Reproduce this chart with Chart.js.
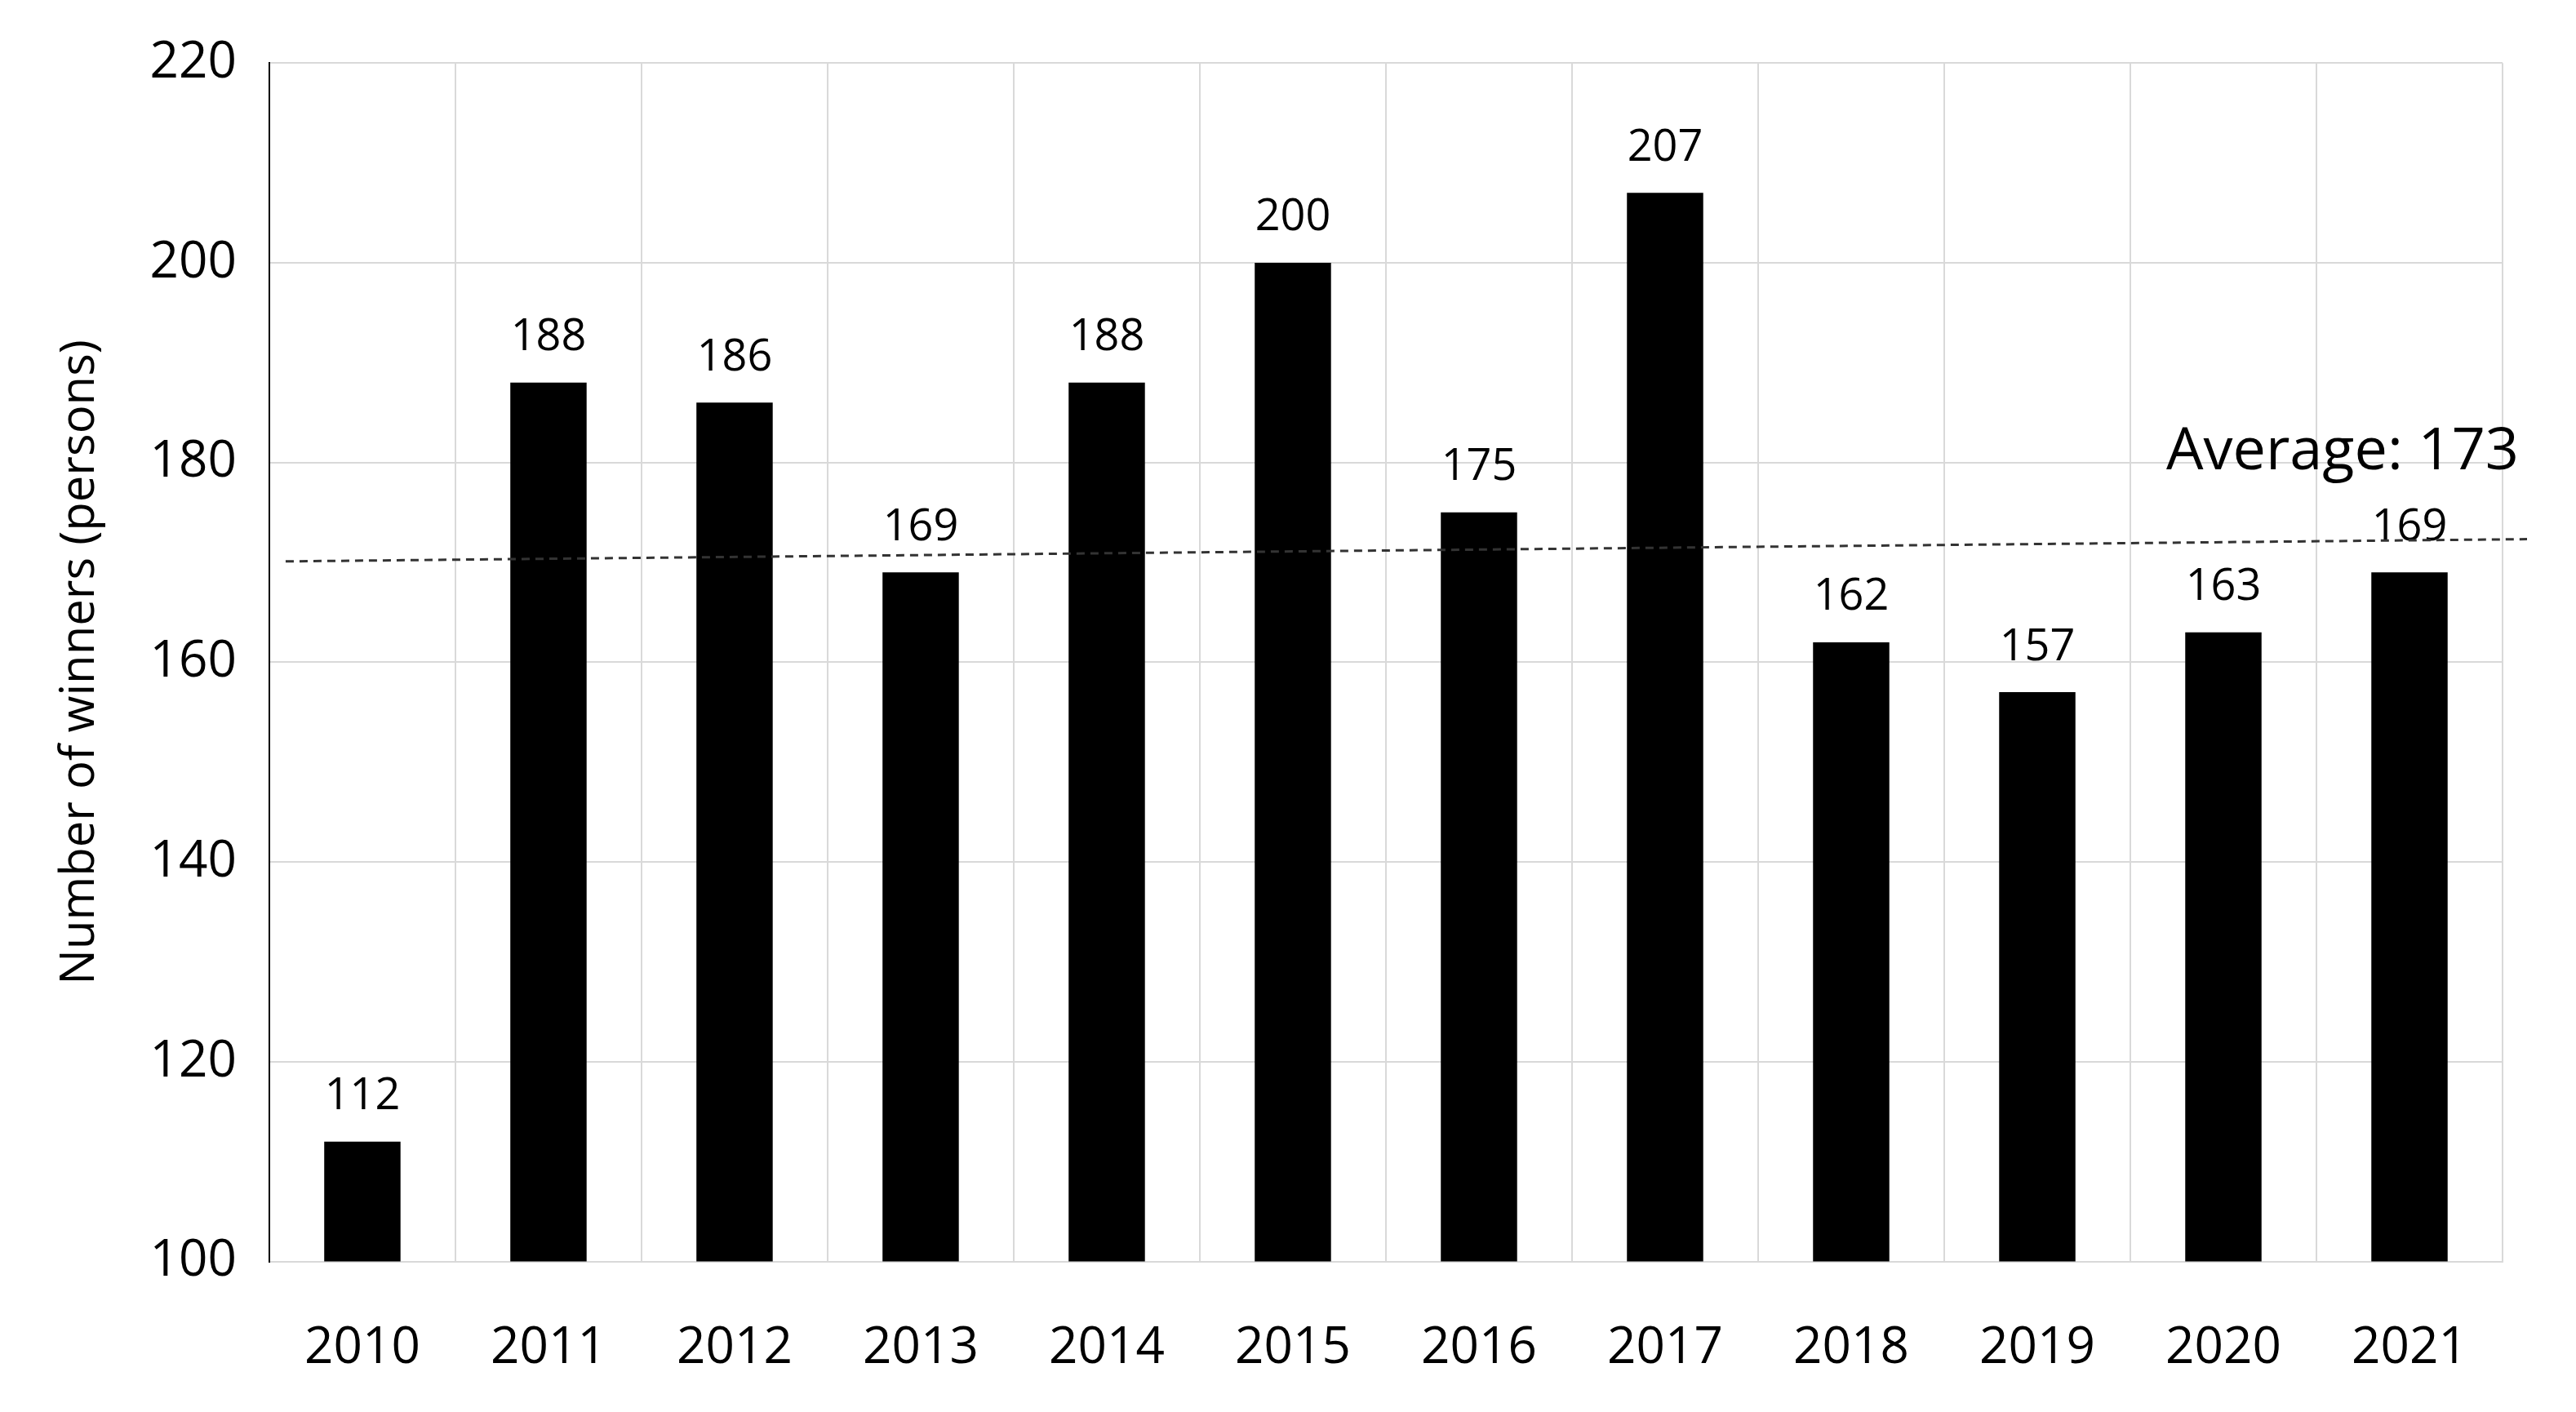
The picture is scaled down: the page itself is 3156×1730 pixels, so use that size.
<!DOCTYPE html>
<html>
<head>
<meta charset="utf-8">
<script src="https://cdn.jsdelivr.net/npm/chart.js@4"></script>
<style>
  html, body { margin: 0; padding: 0; background: #fff; }
  #wrap { width: 3156px; height: 1730px; }
</style>
</head>
<body>
<div id="wrap"><canvas id="chart"></canvas></div>
<script>
const years = ['2010', '2011', '2012', '2013', '2014', '2015', '2016', '2017', '2018', '2019', '2020', '2021'];
const winners = [112, 188, 186, 169, 188, 200, 175, 207, 162, 157, 163, 169];
// dashed trend line, value at left edge and right edge of plot
const trendEnds = [170.1, 172.3];
const averageLabel = ['Average: 173'];

const FONT = 'Open Sans, Liberation Sans, sans-serif';

// Value labels above bars
const barLabels = {
  id: 'barLabels',
  afterDatasetsDraw(chart) {
    const ctx = chart.ctx;
    const meta = chart.getDatasetMeta(0);
    ctx.save();
    ctx.font = '54px ' + FONT;
    ctx.fillStyle = '#000';
    ctx.textAlign = 'center';
    ctx.textBaseline = 'bottom';
    meta.data.forEach((bar, i) => {
      ctx.fillText(winners[i], bar.x, bar.y - 28);
    });
    ctx.restore();
  }
};

// Trend line and average text
const trendLine = {
  id: 'trendLine',
  afterDatasetsDraw(chart) {
    const ctx = chart.ctx;
    const y = chart.scales.y;
    const area = chart.chartArea;
    const y0 = y.getPixelForValue(trendEnds[0]);
    const y1 = y.getPixelForValue(trendEnds[1]);
    const xEnd = area.right + 30;
    const yEnd = y0 + (y1 - y0) * (xEnd - area.left) / (area.right - area.left);
    ctx.save();
    ctx.strokeStyle = '#333';
    ctx.lineWidth = 3;
    ctx.setLineDash([10, 7]);
    ctx.beginPath();
    ctx.moveTo(area.left + 20, y0);
    ctx.lineTo(xEnd, yEnd);
    ctx.stroke();
    ctx.setLineDash([]);
    ctx.font = '72px ' + FONT;
    ctx.fillStyle = '#000';
    ctx.textAlign = 'right';
    ctx.textBaseline = 'bottom';
    ctx.fillText(averageLabel[0], xEnd - 10, yEnd - 70);
    ctx.restore();
  }
};

new Chart(document.getElementById('chart'), {
  type: 'bar',
  data: {
    labels: years,
    datasets: [{
      data: winners,
      backgroundColor: '#000',
      barPercentage: 0.41,
      categoryPercentage: 1
    }]
  },
  options: {
    responsive: true,
    maintainAspectRatio: false,
    animation: false,
    layout: { padding: { top: 29, right: 90, left: 54, bottom: -30 } },
    plugins: {
      legend: { display: false },
      tooltip: { enabled: false }
    },
    scales: {
      x: {
        grid: { color: '#d9d9d9', lineWidth: 2, offset: true, drawTicks: false },
        border: { color: '#d9d9d9', width: 2 },
        ticks: { color: '#000', font: { size: 62, family: FONT }, padding: 70 }
      },
      y: {
        min: 100,
        max: 220,
        grid: { color: '#d9d9d9', lineWidth: 2, drawTicks: false },
        border: { color: '#000', width: 2 },
        ticks: { stepSize: 20, color: '#000', font: { size: 62, family: FONT }, padding: 40 },
        title: { display: true, text: 'Number of winners (persons)', color: '#000', font: { size: 58, family: FONT }, padding: 10 }
      }
    }
  },
  plugins: [barLabels, trendLine]
});
</script>
</body>
</html>
